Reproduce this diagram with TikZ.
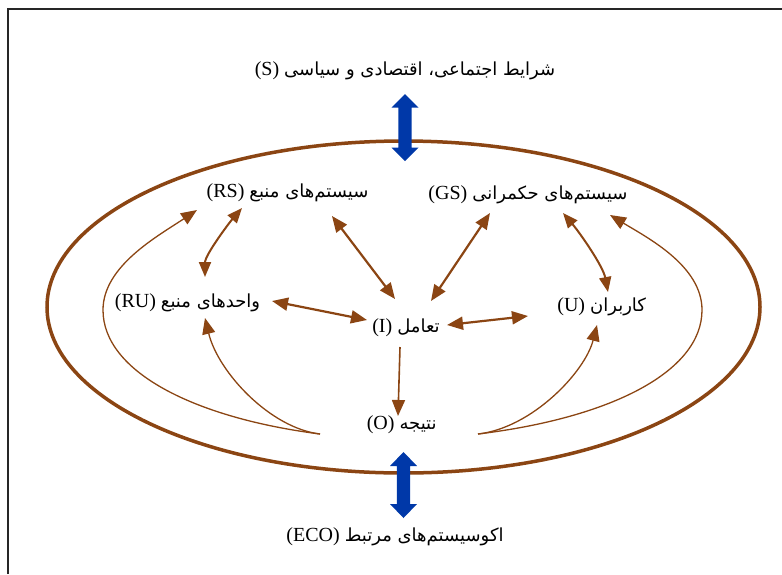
\documentclass[tikz,border=0pt]{standalone}
\usepackage{fontspec}
\setmainfont{Liberation Serif}
\newfontfamily\fa[Script=Arabic]{DejaVu Sans}
\TeXXeTstate=1
\usetikzlibrary{arrows.meta}
\definecolor{brn}{RGB}{139,69,19}
\definecolor{blu}{RGB}{0,56,168}
\newcommand\fas{\fa\fontsize{18}{22}\selectfont}
\begin{document}
\begin{tikzpicture}[x=1pt,y=-1pt,
  lab/.style={inner sep=0pt, anchor=base, font=\fontsize{20}{24}\selectfont},
  dbl/.style={draw=brn, line width=2.2pt, {Triangle[length=16pt,width=13pt]}-{Triangle[length=16pt,width=13pt]}},
  cdbl/.style={draw=brn, line width=2pt, {Triangle[length=15pt,width=12pt]}-{Triangle[length=15pt,width=12pt]}},
  sgl/.style={draw=brn, line width=1.6pt, -{Triangle[length=16pt,width=13pt]}},
  curv/.style={draw=brn, line width=1.3pt, -{Triangle[length=16pt,width=13pt]}},
  bigarrow/.style={fill=blu},
]
\useasboundingbox (0,0) rectangle (782,574);
% frame
\draw[line width=1.3pt, black!85] (8,574) -- (8,9) -- (782,9);
% ellipse
\draw[draw=brn, line width=3.5pt] (403.5,307) ellipse [x radius=356.5, y radius=166];
% blue double arrows
\fill[bigarrow] (405,94) -- (418.5,107.5) -- (411.7,107.5) -- (411.7,147.5) -- (418.5,147.5) -- (405,161) -- (391.5,147.5) -- (398.3,147.5) -- (398.3,107.5) -- (391.5,107.5) -- cycle;
\fill[bigarrow] (403.5,452) -- (417,466) -- (410.2,466) -- (410.2,504) -- (417,504) -- (403.5,518) -- (390,504) -- (396.8,504) -- (396.8,466) -- (390,466) -- cycle;
% labels
\node[lab] (S)   at (405,75)      {(S)\ {\fas\beginR شرایط اجتماعی، اقتصادی و سیاسی\endR}};
\node[lab] (RS)  at (287.5,197)   {(RS)\ {\fas\beginR سیستم‌های منبع\endR}};
\node[lab] (GS)  at (528,199)     {(GS)\ {\fas\beginR سیستم‌های حکمرانی\endR}};
\node[lab] (RU)  at (187.5,307)   {(RU)\ {\fas\beginR واحدهای منبع\endR}};
\node[lab] (I)   at (406,332.5)   {(I)\ {\fas\beginR تعامل\endR}};
\node[lab] (U)   at (601.7,311)   {(U)\ {\fas\beginR کاربران\endR}};
\node[lab] (O)   at (401.7,429.5) {(O)\ {\fas\beginR نتیجه\endR}};
\node[lab] (ECO) at (395,541.5)   {(ECO)\ {\fas\beginR اکوسیستم‌های مرتبط\endR}};
% straight double arrows
\draw[dbl] ([shift={(44.5,19)}]RS.base) -- ([shift={(-11,-33.5)}]I.base);
\draw[dbl] ([shift={(84.5,-6)}]RU.base) -- ([shift={(-39,-12.5)}]I.base);
\draw[dbl] ([shift={(-38,14)}]GS.base) -- ([shift={(25,-31.5)}]I.base);
\draw[dbl] ([shift={(41,-7.5)}]I.base) -- ([shift={(-73.7,5)}]U.base);
% curved double arrows
\draw[cdbl] ([shift={(-45.5,11)}]RS.base) .. controls (229,223) and (205,255) .. ([shift={(17.5,-30)}]RU.base);
\draw[cdbl] ([shift={(35,14)}]GS.base) .. controls (580,233) and (603,266) .. ([shift={(6.3,-19)}]U.base);
% I -> O
\draw[sgl] ([shift={(-6,14.5)}]I.base) -- ([shift={(-3.7,-13.5)}]O.base);
% feedback curves from O
\draw[curv] ([shift={(-81.7,4.5)}]O.base) .. controls (270,428) and (218,372) .. ([shift={(17.5,11)}]RU.base);
\draw[curv] ([shift={(-81.7,4.5)}]O.base) .. controls (195,418) and (103,372) .. (103,310) .. controls (103,266) and (158,236) .. ([shift={(-90.5,13)}]RS.base);
\draw[curv] ([shift={(76.3,4.5)}]O.base) .. controls (532,428) and (585,372) .. ([shift={(-4.7,14)}]U.base);
\draw[curv] ([shift={(76.3,4.5)}]O.base) .. controls (610,418) and (702,372) .. (702,310) .. controls (702,266) and (648,238) .. ([shift={(82,16)}]GS.base);
\end{tikzpicture}
\end{document}
